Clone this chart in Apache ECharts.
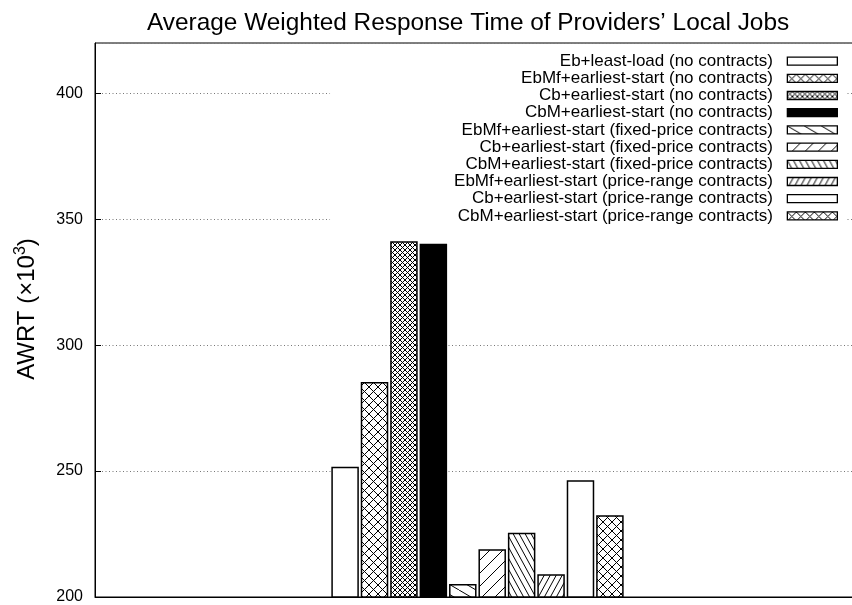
<!DOCTYPE html>
<html><head><meta charset="utf-8">
<script src="https://cdn.jsdelivr.net/npm/echarts@6/dist/echarts.min.js"></script>
<style>html,body{margin:0;padding:0;background:#fff}#c{width:852px;height:605px}</style>
</head><body><div id="c"></div>
<script>
const categories = ['Local Jobs'];
const seriesNames = [
  'Eb+least-load (no contracts)',
  'EbMf+earliest-start (no contracts)',
  'Cb+earliest-start (no contracts)',
  'CbM+earliest-start (no contracts)',
  'EbMf+earliest-start (fixed-price contracts)',
  'Cb+earliest-start (fixed-price contracts)',
  'CbM+earliest-start (fixed-price contracts)',
  'EbMf+earliest-start (price-range contracts)',
  'Cb+earliest-start (price-range contracts)',
  'CbM+earliest-start (price-range contracts)'
];
const seriesValues = [251.7, 285.4, 341.3, 340.3, 205.2, 219.0, 225.5, 209.0, 246.4, 232.5];
const yTicks = [200, 250, 300, 350, 400];
const patternKinds = ['empty','cross','finecross','solid','back','fwd','backDense','fwdDense','empty','cross'];

function makePattern(kind) {
  if (kind === 'empty') return '#ffffff';
  if (kind === 'solid') return '#000000';
  const spec = {
    cross: [9, 9], finecross: [5, 5], back: [17, 10], fwd: [13, 13],
    backDense: [6, 11], fwdDense: [6, 11]
  }[kind];
  const w = spec[0], h = spec[1];
  const c = document.createElement('canvas');
  c.width = w; c.height = h;
  const g = c.getContext('2d');
  g.fillStyle = '#fff'; g.fillRect(0, 0, w, h);
  g.strokeStyle = '#000'; g.lineWidth = 1;
  const back = () => { for (let k = -1; k <= 1; k++) { g.beginPath(); g.moveTo(k * w, 0); g.lineTo(k * w + w, h); g.stroke(); } };
  const fwd = () => { for (let k = -1; k <= 1; k++) { g.beginPath(); g.moveTo(k * w, h); g.lineTo(k * w + w, 0); g.stroke(); } };
  if (kind === 'cross' || kind === 'finecross') { back(); fwd(); }
  else if (kind === 'back' || kind === 'backDense') back();
  else fwd();
  return { image: c, repeat: 'repeat' };
}

const chart = echarts.init(document.getElementById('c'), null, { renderer: 'canvas' });
const font = 'Liberation Sans, Arial, Helvetica, sans-serif';

const series = seriesNames.map((name, i) => ({
  name: name,
  type: 'bar',
  data: [seriesValues[i]],
  barWidth: 27.5,
  barGap: '7%',
  itemStyle: { color: makePattern(patternKinds[i]), borderColor: '#000', borderWidth: 1.5 },
  emphasis: { disabled: true },
  animation: false
}));

chart.setOption({
  animation: false,
  backgroundColor: '#fff',
  title: {
    text: 'Average Weighted Response Time of Providers\u2019 Local Jobs',
    left: 147, top: 11, padding: 0,
    textStyle: { fontFamily: font, fontSize: 24.4, fontWeight: 'normal', color: '#000' }
  },
  grid: { left: 95, top: 43, width: 765, height: 554, outerBoundsMode: 'none', containLabel: false,
    show: true, borderColor: '#000', borderWidth: 1, backgroundColor: 'transparent' },
  legend: {
    orient: 'vertical', right: 7, top: 45, align: 'right',
    icon: 'rect',
    itemWidth: 50, itemHeight: 8, itemGap: 0,
    padding: [7.5, 7, 3, 124],
    backgroundColor: '#fff',
    selectedMode: false,
    itemStyle: { borderWidth: 1.3, borderColor: '#000' },
    textStyle: { fontFamily: font, fontSize: 17, color: '#000', lineHeight: 17.2 },
    formatter: n => n + '  ',
    data: seriesNames
  },
  xAxis: {
    type: 'category', data: categories,
    axisLine: { show: true, lineStyle: { color: '#000', width: 1 } },
    axisTick: { show: false }, axisLabel: { show: false }, splitLine: { show: false }
  },
  yAxis: {
    type: 'value', min: yTicks[0], max: 420, interval: 50,
    name: 'AWRT (\u00d710{sup|3})', nameLocation: 'middle', nameGap: 54,
    nameTextStyle: {
      fontFamily: font, fontSize: 24, color: '#000', padding: [0, 0, 0, 22],
      rich: { sup: { fontFamily: font, fontSize: 16, color: '#000', verticalAlign: 'top', padding: [0, 0, 12, 0] } }
    },
    axisLine: { show: true, lineStyle: { color: '#000', width: 1 } },
    axisTick: { show: true, inside: true, length: 6, lineStyle: { color: '#000' } },
    axisLabel: { fontFamily: font, fontSize: 16, color: '#000', margin: 12, showMaxLabel: false,
      formatter: v => (yTicks.indexOf(v) >= 0 ? String(v) : '') },
    splitLine: { show: true, lineStyle: { color: '#777', type: [1, 2.5], width: 1 } }
  },
  series: series
});
</script>
</body></html>
